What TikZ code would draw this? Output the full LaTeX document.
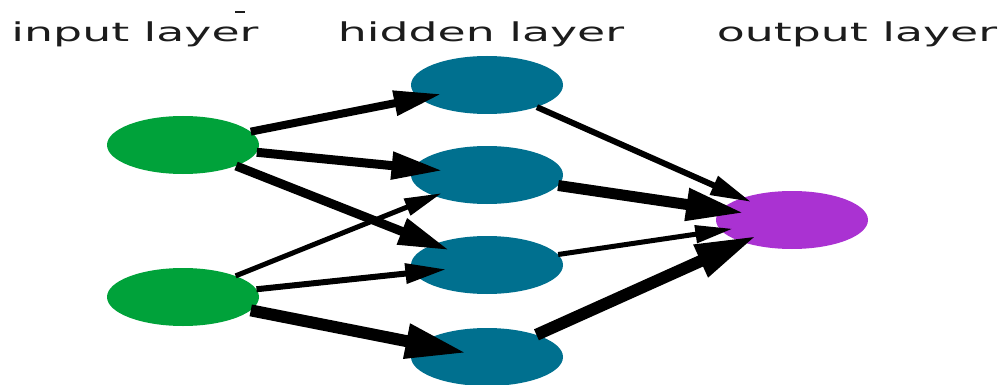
\documentclass[tikz,border=0pt]{standalone}
\usepackage{fontspec}
\usepackage{graphicx}
\setmainfont{DejaVu Sans}
\usetikzlibrary{shapes.geometric,arrows.meta}
\definecolor{ingreen}{RGB}{0,162,58}
\definecolor{hidteal}{RGB}{0,112,143}
\definecolor{outpurple}{RGB}{170,50,210}
\definecolor{txtgray}{RGB}{28,28,28}
\tikzset{
  neuron/.style={ellipse, minimum width=152pt, minimum height=58pt, inner sep=0pt, draw=none},
  innode/.style={neuron, fill=ingreen},
  hidnode/.style={neuron, fill=hidteal},
  outnode/.style={neuron, fill=outpurple},
  conn/.style={line width=#1, black, -{Triangle[length=20pt 3.5, width=6pt 2.2]}},
  title/.style={anchor=base, inner sep=0pt, text=txtgray, font=\fontsize{26}{30}\selectfont}
}
\begin{document}
\begin{tikzpicture}[x=1pt,y=-1pt]
\useasboundingbox (0,0) rectangle (1006,385);
% titles
\node[title] (tin) at (135,42) {\scalebox{1.76}[1]{input layer}};
\node[title] (thid) at (481,42) {\scalebox{1.76}[1]{hidden layer}};
\node[title] (tout) at (857,42) {\scalebox{1.76}[1]{output layer}};
\draw[line width=1.6pt, txtgray] (235,12) -- (245,12);
% nodes
\node[innode] (i1) at (183,145) {};
\node[innode] (i2) at (183,297) {};
\node[hidnode] (h1) at (487,85) {};
\node[hidnode] (h2) at (487,175) {};
\node[hidnode] (h3) at (487,265) {};
\node[hidnode] (h4) at (487,357) {};
\node[outnode] (o) at (792,220) {};
% connectors
\draw[conn=8pt, shorten >=-23pt] (i1) -- (h1);
\draw[conn=9pt, shorten >=-30pt] (i1) -- (h2);
\draw[conn=9pt, shorten >=-17pt] (i1) -- (h3);
\draw[conn=5pt, shorten >=-8pt] (i2) -- (h2);
\draw[conn=6pt, shorten >=-33pt] (i2) -- (h3);
\draw[conn=12pt, shorten >=-49pt] (i2) -- (h4);
\draw[conn=6pt, shorten >=-10pt] (h1) -- (o);
\draw[conn=11pt, shorten >=-24pt] (h2) -- (o);
\draw[conn=5pt, shorten >=-12pt] (h3) -- (o);
\draw[conn=12pt, shorten >=-16pt] (h4) -- (o);
\end{tikzpicture}
\end{document}
